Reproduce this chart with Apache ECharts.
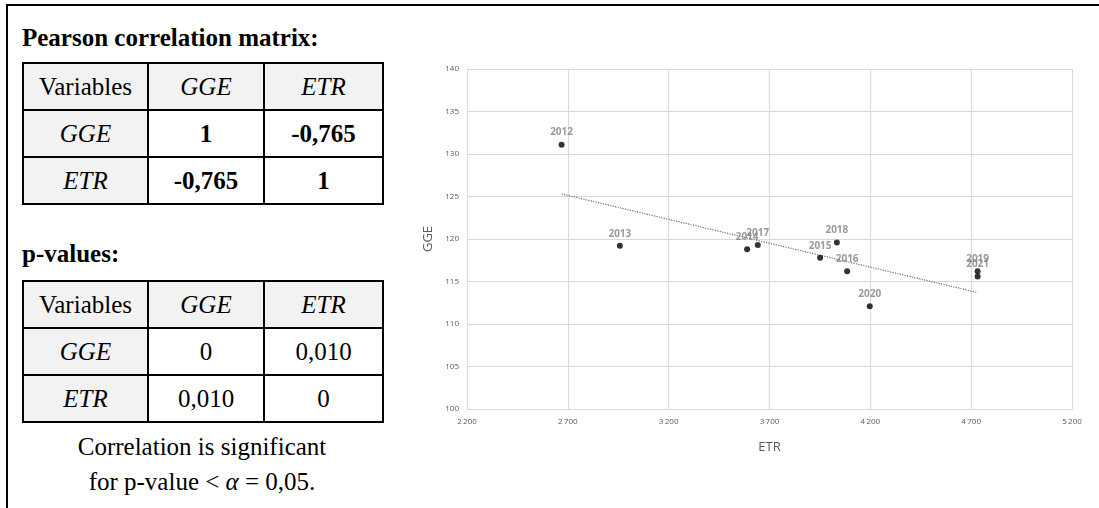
<!DOCTYPE html>
<html>
<head>
<meta charset="utf-8">
<script src="https://cdn.jsdelivr.net/npm/echarts@6/dist/echarts.min.js"></script>
<style>
  html, body { margin:0; padding:0; background:#fff; width:1099px; height:508px; overflow:hidden; }
  .frame { position:absolute; left:6px; top:4px; width:2000px; height:700px; border-left:2px solid #000; border-top:2px solid #000; }
  .serif { font-family:"Liberation Serif","Times New Roman",serif; color:#000; }
  .title { position:absolute; left:22px; font-weight:bold; font-size:25px; line-height:28px; white-space:nowrap; }
  table.mat { position:absolute; left:22px; border-collapse:collapse; font-size:25px; }
  table.mat td { border:2px solid #000; text-align:center; padding:0; }
  table.mat td.h { background:#f2f2f2; }
  table.mat td.i { font-style:italic; }
  table.mat td.b { font-weight:bold; }
  .note { position:absolute; left:22px; width:360px; text-align:center; font-size:25px; line-height:35px; }
  #chart { position:absolute; left:0; top:0; width:1099px; height:508px; }
</style>
</head>
<body>
<div class="frame"></div>
<div class="serif title" style="top:24px;">Pearson correlation matrix:</div>
<table class="serif mat" id="t1" style="top:62px;"></table>
<div class="serif title" style="top:240px;">p-values:</div>
<table class="serif mat" id="t2" style="top:280px;"></table>
<div class="serif note" style="top:429px;">Correlation is significant<br>for p-value &lt; <i>α</i> = 0,05.</div>
<div id="chart"></div>
<script>
// ---- data ----
const variables = ["GGE", "ETR"];
const corrValues = [["1", "-0,765"], ["-0,765", "1"]];
const pValues = [["0", "0,010"], ["0,010", "0"]];

const years = ["2012","2013","2014","2015","2016","2017","2018","2019","2020","2021"];
const etr   = [2669, 2958, 3589, 3951, 4085, 3642, 4034, 4732, 4197, 4732];
const gge   = [131.1, 119.2, 118.8, 117.8, 116.2, 119.3, 119.6, 116.2, 112.1, 115.6];
const trendEtr = [2669, 4732];
const trendGge = [125.3, 113.7];

// ---- tables ----
const colW = [123, 114, 117];
const rowH = 47;
function buildTable(id, vals, bold) {
  const t = document.getElementById(id);
  let html = '<tr style="height:' + rowH + 'px"><td class="h" style="width:' + colW[0] + 'px">Variables</td>';
  variables.forEach((v, j) => { html += '<td class="h i" style="width:' + colW[j+1] + 'px">' + v + '</td>'; });
  html += '</tr>';
  variables.forEach((v, i) => {
    html += '<tr style="height:' + rowH + 'px"><td class="h i">' + v + '</td>';
    vals[i].forEach(x => { html += '<td' + (bold ? ' class="b"' : '') + '>' + x + '</td>'; });
    html += '</tr>';
  });
  t.innerHTML = html;
}
buildTable('t1', corrValues, true);
buildTable('t2', pValues, false);

// ---- chart ----
const chart = echarts.init(document.getElementById('chart'));
const pts = years.map((y, i) => ({ name: y, value: [etr[i], gge[i]] }));
const trend = trendEtr.map((x, i) => [x, trendGge[i]]);
const font = '"Open Sans", "Liberation Sans", sans-serif';
chart.setOption({
  animation: false,
  backgroundColor: 'transparent',
  grid: { left: 467, right: 27, top: 69, bottom: 99, containLabel: false },
  xAxis: {
    type: 'value', min: 2200, max: 5200, interval: 500,
    name: 'ETR', nameLocation: 'middle', nameGap: 32,
    nameTextStyle: { color: '#595959', fontSize: 13, fontFamily: font },
    axisLine: { show: true, lineStyle: { color: '#d9d9d9', width: 1 } },
    axisTick: { show: false },
    axisLabel: {
      color: '#595959', fontSize: 8, fontFamily: font, margin: 9,
      formatter: v => { const s = String(v); return s.slice(0, s.length - 3) + '\u2009' + s.slice(-3); }
    },
    splitLine: { show: true, lineStyle: { color: '#d9d9d9', width: 1 } }
  },
  yAxis: {
    type: 'value', min: 100, max: 140, interval: 5,
    name: 'GGE', nameLocation: 'middle', nameGap: 22, nameRotate: 90,
    nameTextStyle: { color: '#595959', fontSize: 13, fontFamily: font },
    axisLine: { show: true, lineStyle: { color: '#d9d9d9', width: 1 } },
    axisTick: { show: false },
    axisLabel: { color: '#595959', fontSize: 8, fontFamily: font, margin: 8 },
    splitLine: { show: true, lineStyle: { color: '#d9d9d9', width: 1 } }
  },
  series: [
    {
      type: 'line', data: trend, showSymbol: false, symbol: 'none',
      lineStyle: { color: '#6e6e6e', width: 1.2, type: [1.2, 1.3] },
      silent: true, z: 1
    },
    {
      type: 'scatter', data: pts, symbol: 'circle', symbolSize: 6,
      itemStyle: { color: '#000' },
      label: {
        show: true, position: 'top', distance: 4, formatter: '{b}',
        color: '#7f7f7f', fontWeight: 'bold', fontSize: 10, fontFamily: font
      },
      z: 3
    }
  ]
});
</script>
</body>
</html>
